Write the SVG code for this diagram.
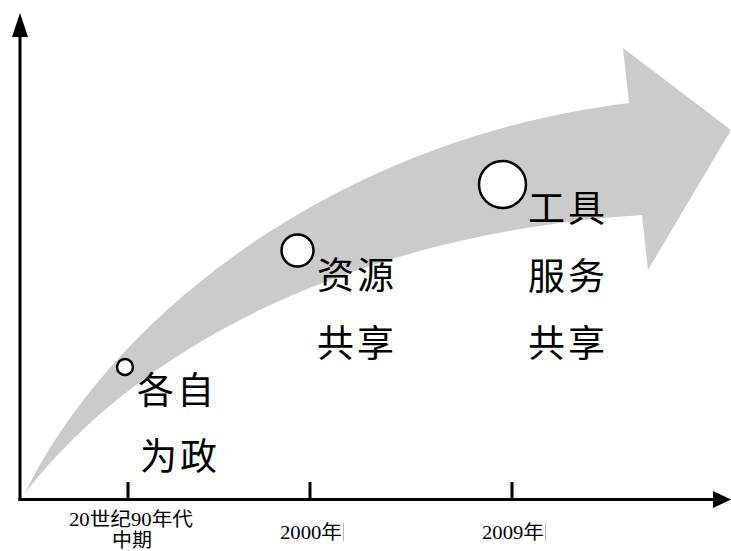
<svg xmlns="http://www.w3.org/2000/svg" width="731" height="551" viewBox="0 0 731 551">
<style>
.big{font-family:"Noto Sans CJK SC","Noto Sans",sans-serif;font-size:37px;fill:#000;letter-spacing:3px}
.tick{font-family:"Liberation Serif","Noto Sans CJK SC",serif;font-size:19px;fill:#000}
.dot{fill:#fff;stroke:#000;stroke-width:2.5}
.axis{stroke:#000;stroke-width:3;fill:none}
</style>
<rect width="731" height="551" fill="#fff"/>
<g id="trend-arrow">
<path d="M25,493 C110,320 330,140 629,103 L623,48 L731,130 L648,270 L642,215 C400,230 160,320 25,493 Z" fill="#cbcbcb"/>
</g>
<g id="axes">
<line class="axis" x1="20" y1="501" x2="20" y2="34"/>
<polygon points="20,13 12,37 28,37" fill="#000"/>
<line class="axis" x1="18.5" y1="499.5" x2="715" y2="499.5"/>
<polygon points="731,499.5 713,491 713,508" fill="#000"/>
<line class="axis" x1="128" y1="482" x2="128" y2="499"/>
<line class="axis" x1="310" y1="482" x2="310" y2="499"/>
<line class="axis" x1="512" y1="482" x2="512" y2="499"/>
</g>
<g id="tick-labels">
<text class="tick" x="69" y="526" textLength="124" lengthAdjust="spacingAndGlyphs">20世纪90年代</text>
<text class="tick" x="112" y="547" textLength="40" lengthAdjust="spacingAndGlyphs">中期</text>
<text class="tick" x="280" y="539" textLength="62" lengthAdjust="spacingAndGlyphs">2000年</text>
<line x1="343.5" y1="523" x2="343.5" y2="541" stroke="#bbb" stroke-width="1"/>
<text class="tick" x="482" y="539" textLength="62" lengthAdjust="spacingAndGlyphs">2009年</text>
<line x1="545.5" y1="523" x2="545.5" y2="541" stroke="#bbb" stroke-width="1"/>
</g>
<g id="stage1">
<circle class="dot" cx="125" cy="367" r="8"/>
<text class="big" x="137" y="404">各自</text>
<text class="big" x="140" y="470">为政</text>
</g>
<g id="stage2">
<circle class="dot" cx="297.5" cy="250.5" r="16"/>
<text class="big" x="317" y="289">资源</text>
<text class="big" x="317" y="357">共享</text>
</g>
<g id="stage3">
<circle class="dot" cx="502.5" cy="184.5" r="23.5"/>
<text class="big" x="528" y="222">工具</text>
<text class="big" x="528" y="290">服务</text>
<text class="big" x="528" y="357">共享</text>
</g>
</svg>
